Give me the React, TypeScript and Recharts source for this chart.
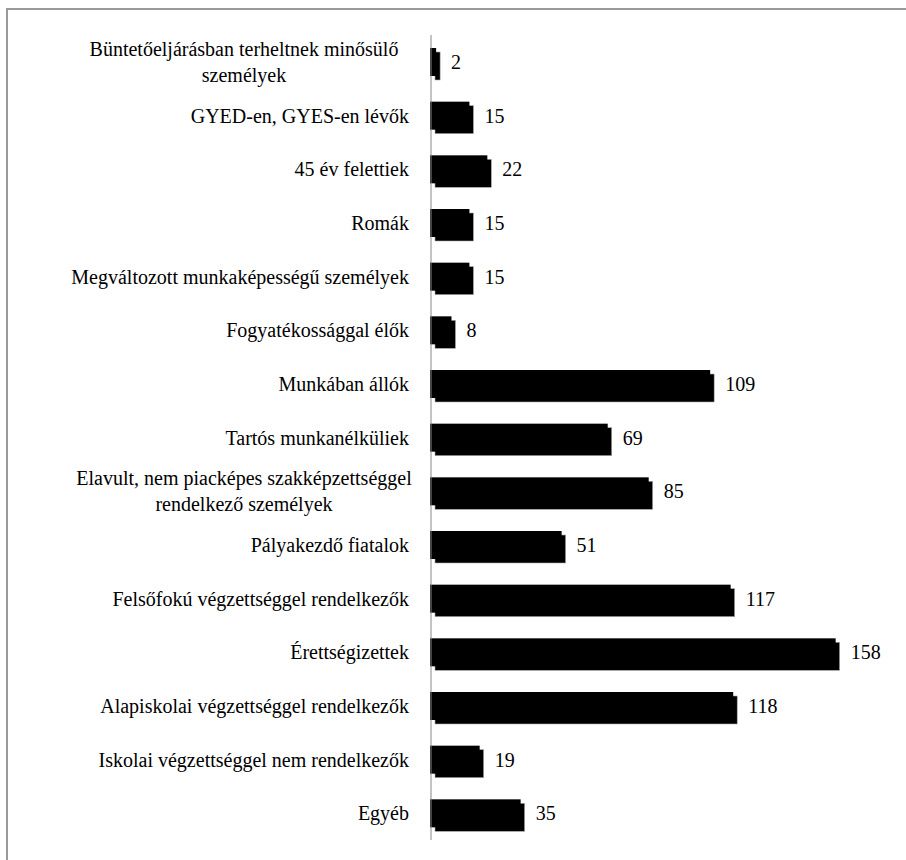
import { Bar, BarChart, LabelList, XAxis, YAxis } from "recharts";

const categories = [
  "Büntetőeljárásban terheltnek minősülő\nszemélyek",
  "GYED-en, GYES-en lévők",
  "45 év felettiek",
  "Romák",
  "Megváltozott munkaképességű személyek",
  "Fogyatékossággal élők",
  "Munkában állók",
  "Tartós munkanélküliek",
  "Elavult, nem piacképes szakképzettséggel\nrendelkező személyek",
  "Pályakezdő fiatalok",
  "Felsőfokú végzettséggel rendelkezők",
  "Érettségizettek",
  "Alapiskolai végzettséggel rendelkezők",
  "Iskolai végzettséggel nem rendelkezők",
  "Egyéb",
];
const values = [2, 15, 22, 15, 15, 8, 109, 69, 85, 51, 117, 158, 118, 19, 35];

const FONT = '"Liberation Serif", "Times New Roman", serif';
const FONT_SIZE = 20;
// wrapped labels sit centred in a box of this width, flush with the other labels
const WRAP_BOX = 330;

const rows = categories.map((name, i) => ({ name, value: values[i] }));

function CategoryTick(props: any) {
  const { x, y, payload } = props;
  const lines = String(payload.value).split("\n");
  const style = { fontFamily: FONT, fontSize: FONT_SIZE };
  if (lines.length === 1) {
    return (
      <text x={x} y={y} dy={7} textAnchor="end" style={style} fill="#000">
        {lines[0]}
      </text>
    );
  }
  const lh = 26;
  const top = y - ((lines.length - 1) * lh) / 2;
  return (
    <text textAnchor="middle" style={style} fill="#000">
      {lines.map((l, i) => (
        <tspan key={i} x={x - WRAP_BOX / 2} y={top + i * lh} dy={7}>
          {l}
        </tspan>
      ))}
    </text>
  );
}

function ShadowBar(props: any) {
  const { x, y, width, height } = props;
  if (!width) return null;
  return (
    <g>
      <rect x={x + 4} y={y + 4} width={width} height={height} fill="#000" stroke="#aaa" strokeWidth={0.6} />
      <rect x={x - 1} y={y} width={width + 1} height={height} fill="#000" />
    </g>
  );
}

export default function App() {
  return (
    <div style={{ position: "fixed", left: 0, top: 0, width: 906, height: 860, overflow: "hidden", background: "#fff" }}>
      <div
        style={{
          position: "absolute",
          left: 6,
          top: 8,
          width: 1000,
          height: 1000,
          border: "2px solid #999",
        }}
      />
      <div style={{ position: "absolute", left: 0, top: 0 }}>
        <BarChart
          width={906}
          height={860}
          data={rows}
          layout="vertical"
          margin={{ top: 35, right: 14, bottom: 20, left: 0 }}
          barSize={28}
        >
          <XAxis type="number" domain={[0, 180]} hide />
          <YAxis
            type="category"
            dataKey="name"
            width={431}
            axisLine={{ stroke: "#888", strokeWidth: 1 }}
            tickLine={false}
            tickSize={0}
            tickMargin={22}
            tick={<CategoryTick />}
            interval={0}
          />
          <Bar dataKey="value" fill="#000" shape={<ShadowBar />} isAnimationActive={false}>
            <LabelList
              dataKey="value"
              position="right"
              offset={15}
              fill="#000"
              style={{ fontFamily: FONT, fontSize: FONT_SIZE }}
            />
          </Bar>
        </BarChart>
      </div>
    </div>
  );
}
